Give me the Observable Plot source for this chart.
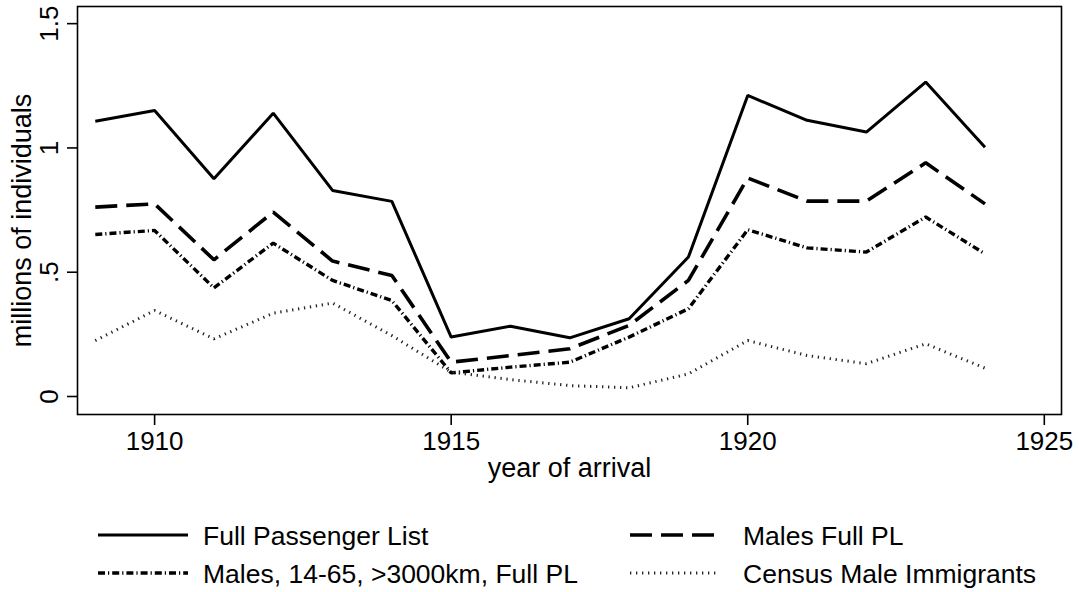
<!DOCTYPE html>
<html><head><meta charset="utf-8">
<script src="https://cdn.jsdelivr.net/npm/d3@7"></script>
<script src="https://cdn.jsdelivr.net/npm/@observablehq/plot@0.6"></script>
<style>
body{margin:0;background:#fff;font-family:"Liberation Sans",Arial,sans-serif;}
#wrap{position:relative;width:1079px;height:592px;overflow:hidden;}
#legend{position:absolute;left:0;top:500px;width:1079px;height:92px;}
</style>
</head><body><div id="wrap"><div id="chart"></div><div id="legend"></div></div>
<script>
const years = [1909,1910,1911,1912,1913,1914,1915,1916,1917,1918,1919,1920,1921,1922,1923,1924];
const fullPL    = [1.107,1.151,0.876,1.140,0.829,0.785,0.239,0.283,0.236,0.313,0.561,1.211,1.111,1.064,1.265,1.003];
const malesPL   = [0.762,0.775,0.550,0.742,0.545,0.487,0.138,0.165,0.192,0.286,0.467,0.879,0.786,0.786,0.940,0.775];
const males1465 = [0.652,0.668,0.437,0.617,0.467,0.386,0.095,0.118,0.138,0.239,0.353,0.671,0.598,0.581,0.722,0.574];
const census    = [0.225,0.346,0.232,0.335,0.376,0.245,0.098,0.068,0.044,0.035,0.091,0.225,0.165,0.132,0.212,0.114];
const seriesNames = ["Full Passenger List","Males Full PL","Males, 14-65, >3000km, Full PL","Census Male Immigrants"];
const xTicks = [1910,1915,1920,1925];
const yTicks = [0,0.5,1,1.5];
const yTickLabels = ["0",".5","1","1.5"];
const xLabel = "year of arrival";
const yLabel = "millions of individuals";

const seriesValues = [fullPL, malesPL, males1465, census];
const styles = [
  {stroke:"#000", strokeWidth:3, dash:null},
  {stroke:"#000", strokeWidth:3.6, dash:"22,9"},
  {stroke:"#000", strokeWidth:3.4, dash:"7,3,1.2,3"},
  {stroke:"#222", strokeWidth:3, dash:"1.3,4.7"}
];

const lineMarks = seriesValues.map((vals, i) => {
  const data = years.map((y, j) => ({year: y, value: vals[j]}));
  return Plot.line(data, {x:"year", y:"value", stroke: styles[i].stroke, strokeWidth: styles[i].strokeWidth,
    strokeDasharray: styles[i].dash, strokeLinejoin:"miter", strokeLinecap:"butt"});
});

const chart = Plot.plot({
  width: 1079, height: 500,
  marginLeft: 77, marginRight: 18, marginTop: 6, marginBottom: 86,
  style: {fontFamily:'"Liberation Sans", Arial, sans-serif', fontSize:"26px", color:"#000", background:"#fff"},
  x: {domain:[1908.7,1925.29]},
  y: {domain:[-0.0724,1.569]},
  marks: [
    Plot.frame({stroke:"#000", strokeWidth:1.6}),
    Plot.axisX({ticks:xTicks, tickFormat:d=>String(d), tickSize:11, tickPadding:6, fontSize:26, strokeWidth:1.6, label:null}),
    Plot.axisY({ticks:yTicks, tickFormat:(d,i)=>yTickLabels[yTicks.indexOf(d)], tickSize:10, tickPadding:10, tickRotate:-90, fontSize:26, strokeWidth:1.6, label:null}),
    Plot.text([xLabel], {frameAnchor:"bottom", dy:62, text:d=>d, fontSize:27, textAnchor:"middle"}),
    Plot.text([yLabel], {frameAnchor:"left", dx:-55, dy:10, rotate:-90, text:d=>d, fontSize:27, textAnchor:"middle"}),
    ...lineMarks
  ]
});
document.getElementById("chart").appendChild(chart);

// legend
const legendPos = [
  {lx1:98, lx2:188, tx:203, cy:35},
  {lx1:630, lx2:718, tx:743, cy:35},
  {lx1:98, lx2:188, tx:203, cy:73},
  {lx1:630, lx2:718, tx:743, cy:73}
];
let svg = `<svg width="1079" height="92" xmlns="http://www.w3.org/2000/svg" style="font-family:'Liberation Sans',Arial,sans-serif">`;
seriesNames.forEach((name, i) => {
  const p = legendPos[i], s = styles[i];
  svg += `<line x1="${p.lx1}" x2="${p.lx2}" y1="${p.cy}" y2="${p.cy}" stroke="${s.stroke}" stroke-width="${s.strokeWidth}" ${s.dash?`stroke-dasharray="${s.dash}"`:""}/>`;
  svg += `<text x="${p.tx}" y="${p.cy}" dy="0.36em" font-size="26.5" fill="#000">${name.replace(/>/g,"&gt;")}</text>`;
});
svg += `</svg>`;
document.getElementById("legend").innerHTML = svg;
</script>
</body></html>
